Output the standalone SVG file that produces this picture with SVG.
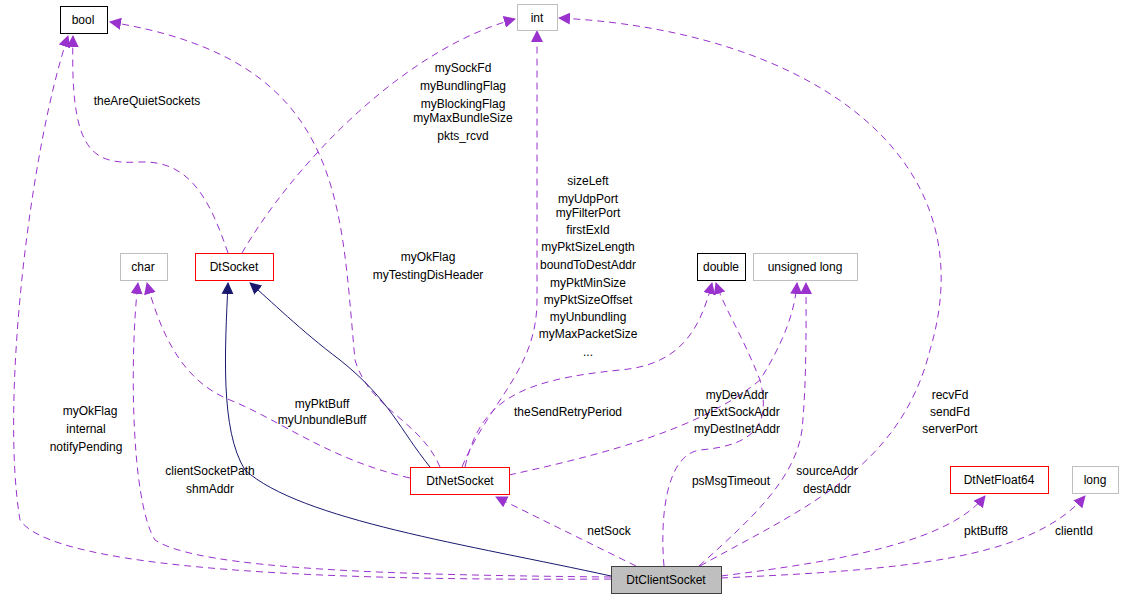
<svg xmlns="http://www.w3.org/2000/svg" width="1124" height="600" viewBox="0 0 1124 600">
<defs>
<marker id="ap" markerWidth="12" markerHeight="12" refX="11" refY="6" orient="auto" markerUnits="userSpaceOnUse" viewBox="0 0 12 12"><path d="M0,0 L12,6 L0,12 z" fill="#9a32cd"/></marker>
<marker id="an" markerWidth="12" markerHeight="12" refX="11" refY="6" orient="auto" markerUnits="userSpaceOnUse" viewBox="0 0 12 12"><path d="M0,0 L12,6 L0,12 z" fill="#191970"/></marker>
</defs>
<style>
text{font-family:"Liberation Sans",Arial,sans-serif;font-size:12px;fill:#000;text-anchor:middle}
.n rect{fill:#fff;stroke-width:1}
.blk{stroke:#000}.gry{stroke:#bfbfbf}.red{stroke:#ff0000}
.d{fill:none;stroke:#9a32cd;stroke-dasharray:7,5;marker-end:url(#ap)}
.s{fill:none;stroke:#191970;marker-end:url(#an)}
</style>
<rect width="1124" height="600" fill="#fff"/>
<g id="connectors">
<path class="d" d="M611,579 C450,580 60,580 20,520 C0,400 30,150 68,36"/>
<path class="d" d="M228,253 C210,200 190,160 140,162 C90,165 70,150 73,36"/>
<path class="d" d="M440,467 C420,420 370,410 355,360 C340,200 345,60 110,22"/>
<path class="d" d="M242,253 C290,170 400,50 515,19"/>
<path class="d" d="M462,467 C490,400 537,370 537,300 L537,31"/>
<path class="d" d="M700,566 C800,510 900,470 930,350 C990,150 800,30 559,18"/>
<path class="d" d="M611,577 C400,575 200,570 155,540 C130,500 130,350 138,283"/>
<path class="d" d="M410,478 C330,460 280,420 230,400 C180,380 160,330 147,283"/>
<path class="d" d="M465,467 C480,400 520,380 620,370 C680,365 700,330 712,283"/>
<path class="d" d="M664,566 C660,520 665,455 700,450 C760,445 770,420 760,380 C740,330 725,310 716,283"/>
<path class="d" d="M509,475 C600,455 700,430 760,380 C785,340 795,310 797,283"/>
<path class="d" d="M699,566 C750,520 795,480 802,430 C807,380 806,310 806,283"/>
<path class="d" d="M636,566 L496,497"/>
<path class="d" d="M721,576 C850,560 950,540 985,496"/>
<path class="d" d="M721,578 C900,570 1030,560 1085,496"/>
<path class="s" d="M430,467 C400,430 390,400 340,360 C300,330 270,300 250,283"/>
<path class="s" d="M611,576 C470,545 300,520 245,470 C220,430 225,350 228,283"/>
</g>
<g id="labels">
<text x="90" y="415">myOkFlag</text><text x="86" y="433">internal</text><text x="86" y="451">notifyPending</text>
<text x="147" y="105">theAreQuietSockets</text>
<text x="428" y="261">myOkFlag</text><text x="428" y="279">myTestingDisHeader</text>
<text x="463" y="72">mySockFd</text><text x="463" y="90">myBundlingFlag</text><text x="463" y="108">myBlockingFlag</text><text x="463" y="122">myMaxBundleSize</text><text x="463" y="140">pkts_rcvd</text>
<text x="588" y="185">sizeLeft</text><text x="588" y="203">myUdpPort</text><text x="588" y="217">myFilterPort</text><text x="588" y="234">firstExId</text><text x="588" y="251">myPktSizeLength</text><text x="588" y="269">boundToDestAddr</text><text x="588" y="287">myPktMinSize</text><text x="588" y="304">myPktSizeOffset</text><text x="588" y="321">myUnbundling</text><text x="588" y="338">myMaxPacketSize</text><text x="588" y="356">...</text>
<text x="322" y="408">myPktBuff</text><text x="322" y="424">myUnbundleBuff</text>
<text x="568" y="416">theSendRetryPeriod</text>
<text x="737" y="399">myDevAddr</text><text x="737" y="416">myExtSockAddr</text><text x="737" y="433">myDestInetAddr</text>
<text x="731" y="485">psMsgTimeout</text>
<text x="827" y="475">sourceAddr</text><text x="827" y="493">destAddr</text>
<text x="950" y="399">recvFd</text><text x="950" y="416">sendFd</text><text x="950" y="433">serverPort</text>
<text x="210" y="475">clientSocketPath</text><text x="210" y="493">shmAddr</text>
<text x="609" y="535">netSock</text>
<text x="986" y="535">pktBuff8</text>
<text x="1074" y="535">clientId</text>
</g>
<g id="bool" class="n"><rect class="blk" x="60.5" y="6.5" width="47" height="27"/><text x="83" y="24">bool</text></g>
<g id="int" class="n"><rect class="gry" x="517.5" y="4.5" width="40" height="26"/><text x="537" y="22">int</text></g>
<g id="char" class="n"><rect class="gry" x="120.5" y="253.5" width="47" height="27"/><text x="143" y="271">char</text></g>
<g id="DtSocket" class="n"><rect class="red" x="195.5" y="253.5" width="78" height="27"/><text x="234" y="271">DtSocket</text></g>
<g id="double" class="n"><rect class="blk" x="697.5" y="253.5" width="48" height="27"/><text x="721" y="271">double</text></g>
<g id="unsignedlong" class="n"><rect class="gry" x="753.5" y="253.5" width="104" height="27"/><text x="805" y="271">unsigned long</text></g>
<g id="DtNetSocket" class="n"><rect class="red" x="410.5" y="467.5" width="99" height="27"/><text x="460" y="485">DtNetSocket</text></g>
<g id="DtNetFloat64" class="n"><rect class="red" x="950.5" y="466.5" width="98" height="27"/><text x="999" y="484">DtNetFloat64</text></g>
<g id="long" class="n"><rect class="gry" x="1072.5" y="466.5" width="46" height="27"/><text x="1095" y="484">long</text></g>
<g id="DtClientSocket" class="n"><rect x="611.5" y="566.5" width="110" height="27" style="fill:#bfbfbf;stroke:#404040"/><text x="666" y="584">DtClientSocket</text></g>
</svg>
